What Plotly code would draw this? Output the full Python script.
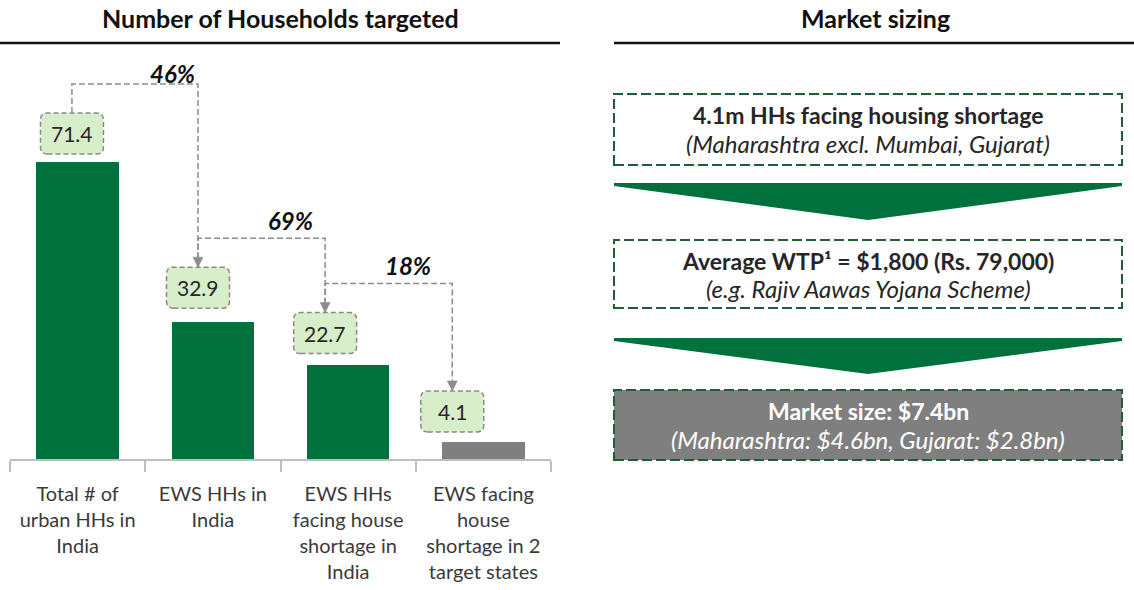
import plotly.graph_objects as go

# ---------------- data ----------------
categories = [
    "Total # of<br>urban HHs in<br>India",
    "EWS HHs in<br>India",
    "EWS HHs<br>facing house<br>shortage in<br>India",
    "EWS facing<br>house<br>shortage in 2<br>target states",
]
values = [71.4, 32.9, 22.7, 4.1]
value_labels = ["71.4", "32.9", "22.7", "4.1"]
bar_kind = ["main", "main", "main", "target"]
conversion_labels = ["46%", "69%", "18%"]
panel_titles = ["Number of Households targeted", "Market sizing"]
step_titles = [
    "4.1m HHs facing housing shortage",
    "Average WTP¹ = $1,800 (Rs. 79,000)",
    "Market size: $7.4bn",
]
step_subtitles = [
    "(Maharashtra excl. Mumbai, Gujarat)",
    "(e.g. Rajiv Aawas Yojana Scheme)",
    "(Maharashtra: $4.6bn, Gujarat: $2.8bn)",
]

# ---------------- style / layout ----------------
W, H = 1134, 590
FONT = "Lato"
GREEN = "#00703C"
GRAY_BAR = "#7F7F7F"
BOX_FILL = "#D8EDC9"
BOX_LINE = "#8A8A8A"
CONN = "#8C8C8C"
DKGREEN = "#1D5E35"
TXT = "#262626"

plot_left, plot_right = 10, 551
plot_top, plot_bottom = 45, 459
px_per_unit_y = 4.16
y_max = (plot_bottom - plot_top) / px_per_unit_y
px_per_unit_x = (plot_right - plot_left) / 4.0

colors = {"main": GREEN, "target": GRAY_BAR}

def px(x):
    return x / W

def py(y):
    return 1 - y / H

fig = go.Figure()
xs = list(range(len(categories)))
fig.add_trace(go.Bar(
    x=xs, y=values, width=0.61,
    marker=dict(color=[colors[k] for k in bar_kind], line=dict(width=0)),
    hoverinfo="skip", showlegend=False,
))

shapes = []
annotations = []

# value label boxes (rounded dashed) in data coordinates
box_w = 63 / px_per_unit_x
box_h = 41 / px_per_unit_y
box_x_nudge = [-0.042, -0.11, -0.17, -0.23]
box_gap_px = [8, 14, 11, 10]
rx = 7 / px_per_unit_x
ry = 7 / px_per_unit_y

def rounded(x0, y0, x1, y1):
    return (f"M {x0+rx},{y0} L {x1-rx},{y0} Q {x1},{y0} {x1},{y0+ry} "
            f"L {x1},{y1-ry} Q {x1},{y1} {x1-rx},{y1} L {x0+rx},{y1} "
            f"Q {x0},{y1} {x0},{y1-ry} L {x0},{y0+ry} Q {x0},{y0} {x0+rx},{y0} Z")

box_centers = []
box_tops = []
for i, v in enumerate(values):
    xc = xs[i] + box_x_nudge[i]
    yb = v + box_gap_px[i] / px_per_unit_y
    yt = yb + box_h
    box_centers.append(xc)
    box_tops.append(yt)
    shapes.append(dict(type="path", xref="x", yref="y",
                       path=rounded(xc - box_w / 2, yb, xc + box_w / 2, yt),
                       fillcolor=BOX_FILL, line=dict(color=BOX_LINE, width=1.5, dash="5px,3px"),
                       layer="above"))
    annotations.append(dict(x=xc, y=(yb + yt) / 2, xref="x", yref="y", text=value_labels[i],
                            xanchor="center", yanchor="middle",
                            showarrow=False, font=dict(family=FONT, size=21, color=TXT)))

# connectors with arrowheads
level_px = 29
arrow_len = 10 / px_per_unit_y
arrow_half = 5 / px_per_unit_x
pct_frac = [0.80, 0.73, 0.65]
pct_shift = [10, 18, 18]
for i, lab in enumerate(conversion_labels):
    x0 = box_centers[i]
    x1 = box_centers[i + 1]
    lvl = box_tops[i] + level_px / px_per_unit_y
    ytip = box_tops[i + 1]
    shapes.append(dict(type="path", xref="x", yref="y",
                       path=f"M {x0},{box_tops[i]} L {x0},{lvl} L {x1},{lvl} L {x1},{ytip + arrow_len}",
                       line=dict(color=CONN, width=1.5, dash="6px,3px"), layer="above"))
    shapes.append(dict(type="path", xref="x", yref="y",
                       path=f"M {x1-arrow_half},{ytip+arrow_len} L {x1+arrow_half},{ytip+arrow_len} L {x1},{ytip} Z",
                       fillcolor=CONN, line=dict(color=CONN, width=0.5), layer="above"))
    annotations.append(dict(x=x0 + (x1 - x0) * pct_frac[i], y=lvl, xref="x", yref="y",
                            xanchor="center", yanchor="middle",
                            yshift=pct_shift[i], text=f"<b><i>{lab}</i></b>", showarrow=False,
                            font=dict(family=FONT, size=24, color="#111111")))

# panel titles + rules
for cx, title in zip([280, 875], panel_titles):
    annotations.append(dict(x=px(cx), y=py(18), xref="paper", yref="paper",
                            xanchor="center", yanchor="middle",
                            text=f"<b>{title}</b>", showarrow=False,
                            font=dict(family=FONT, size=25, color="#111111")))
shapes.append(dict(type="line", xref="paper", yref="paper", x0=px(0), x1=px(560),
                   y0=py(43), y1=py(43), line=dict(color="#111111", width=2.5)))
shapes.append(dict(type="line", xref="paper", yref="paper", x0=px(614), x1=px(1134),
                   y0=py(43), y1=py(43), line=dict(color="#111111", width=2.5)))

# right panel: steps and funnel arrows
step_boxes = [(94, 165), (240, 308), (390, 460)]
step_fill = ["white", "white", "#7F7F7F"]
step_color = [TXT, TXT, "white"]
bx0, bx1 = 614, 1122
for i, (t, b) in enumerate(step_boxes):
    shapes.append(dict(type="rect", xref="paper", yref="paper",
                       x0=px(bx0), x1=px(bx1), y0=py(b), y1=py(t),
                       fillcolor=step_fill[i], line=dict(color=DKGREEN, width=2, dash="10px,4px")))
    cx = (bx0 + bx1) / 2
    annotations.append(dict(x=px(cx), y=py(t + 21), xref="paper", yref="paper",
                            xanchor="center", yanchor="middle",
                            text=f"<b>{step_titles[i]}</b>", showarrow=False,
                            font=dict(family=FONT, size=23, color=step_color[i])))
    annotations.append(dict(x=px(cx), y=py(t + 49), xref="paper", yref="paper",
                            xanchor="center", yanchor="middle",
                            text=f"<i>{step_subtitles[i]}</i>", showarrow=False,
                            font=dict(family=FONT, size=24, color=step_color[i])))

for top, tip in [(183, 220), (338, 374)]:
    shapes.append(dict(type="path", xref="paper", yref="paper",
                       path=f"M {px(bx0)},{py(top)} L {px(bx1)},{py(top)} L {px(bx1)},{py(top+3)} "
                            f"L {px(868)},{py(tip)} L {px(bx0)},{py(top+3)} Z",
                       fillcolor=GREEN, line=dict(width=0)))

fig.update_layout(
    width=W, height=H,
    margin=dict(l=0, r=0, t=0, b=0),
    paper_bgcolor="white", plot_bgcolor="white",
    shapes=shapes, annotations=annotations,
    bargap=0,
    xaxis=dict(
        domain=[px(plot_left), px(plot_right)], range=[-0.5, 3.5],
        tickmode="array", tickvals=xs, ticktext=categories,
        ticks="outside", ticklen=16, tickcolor="rgba(0,0,0,0)",
        tickfont=dict(family=FONT, size=20, color="#3A3A3A"),
        showline=True, linecolor="#BFBFBF", linewidth=1.5,
        showgrid=False, zeroline=False, fixedrange=True,
        minor=dict(tick0=0.5, dtick=1, ticks="outside", ticklen=11, tickcolor="#BFBFBF", tickwidth=1.5, showgrid=False),
    ),
    yaxis=dict(
        domain=[py(plot_bottom), py(plot_top)], range=[0, y_max],
        visible=False, fixedrange=True, showgrid=False, zeroline=False,
    ),
    font=dict(family=FONT),
)

fig.write_html("out.html", config={"displayModeBar": False},
               post_script="document.body.style.margin='0';")
